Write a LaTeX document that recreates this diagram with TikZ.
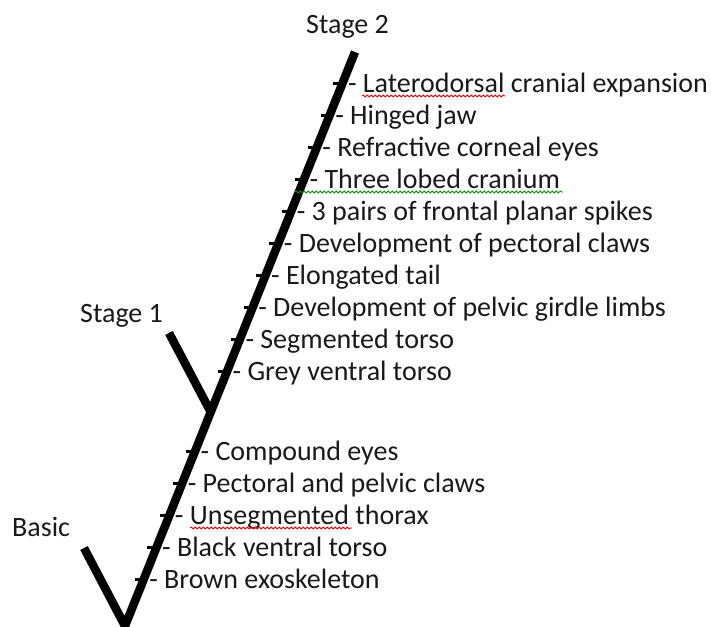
\documentclass[tikz,border=0pt]{standalone}
\usepackage{fontspec}
\setmainfont{Carlito}
\usetikzlibrary{calc,decorations.pathmorphing}
\begin{document}
\begin{tikzpicture}[x=1pt,y=-1pt,
  stem/.style={line width=8.5pt,line join=miter,line cap=butt},
  tickmark/.style={line width=2.2pt},
  lab/.style={anchor=base west,inner sep=0pt,font=\fontsize{28}{32}\selectfont,text=black!90},
  squig/.style={decorate,decoration={snake,amplitude=1.1pt,segment length=4pt},line width=0.8pt}]
\useasboundingbox (0,0) rectangle (711,626);
\coordinate (B) at (125,626);
\coordinate (T) at (355,52);
\coordinate (BA) at (84,548);
\coordinate (S1V) at ($(B)!{(626-412)/574}!(T)$);
\coordinate (S1A) at (169,333);
\draw[stem] (BA) -- (B) -- (T);
\draw[stem] (S1A) -- (S1V);
\node[lab] (stage2) at (306,34) {Stage 2};
\node[lab] (stage1) at (80,322) {Stage 1};
\node[lab] (basic) at (12,536) {Basic};
\newcommand\feat[3]{%
  \coordinate (#1) at ($(B)!{(626-(#2-8.5))/574}!(T)$);
  \draw[tickmark] ([xshift=-9pt]#1) -- ([xshift=3pt]#1);
  \node[lab] (#1-l) at ([xshift=5.5pt,yshift=-8.5pt]#1) {- #3};}
\feat{f1}{92}{Laterodorsal cranial expansion}
\feat{f2}{124}{Hinged jaw}
\feat{f3}{156}{Refractive corneal eyes}
\feat{f4}{188}{Three lobed cranium}
\feat{f5}{220}{3 pairs of frontal planar spikes}
\feat{f6}{252}{Development of pectoral claws}
\feat{f7}{284}{Elongated tail}
\feat{f8}{316}{Development of pelvic girdle limbs}
\feat{f9}{348}{Segmented torso}
\feat{f10}{380}{Grey ventral torso}
\feat{g1}{460}{Compound eyes}
\feat{g2}{492}{Pectoral and pelvic claws}
\feat{g3}{524}{Unsegmented thorax}
\feat{g4}{556}{Black ventral torso}
\feat{g5}{588}{Brown exoskeleton}
\draw[squig,red] (362,96) -- (505,96);
\draw[squig,green!60!black] (295,192) -- (563,192);
\draw[squig,red] (190,528) -- (352,528);
\end{tikzpicture}
\end{document}
